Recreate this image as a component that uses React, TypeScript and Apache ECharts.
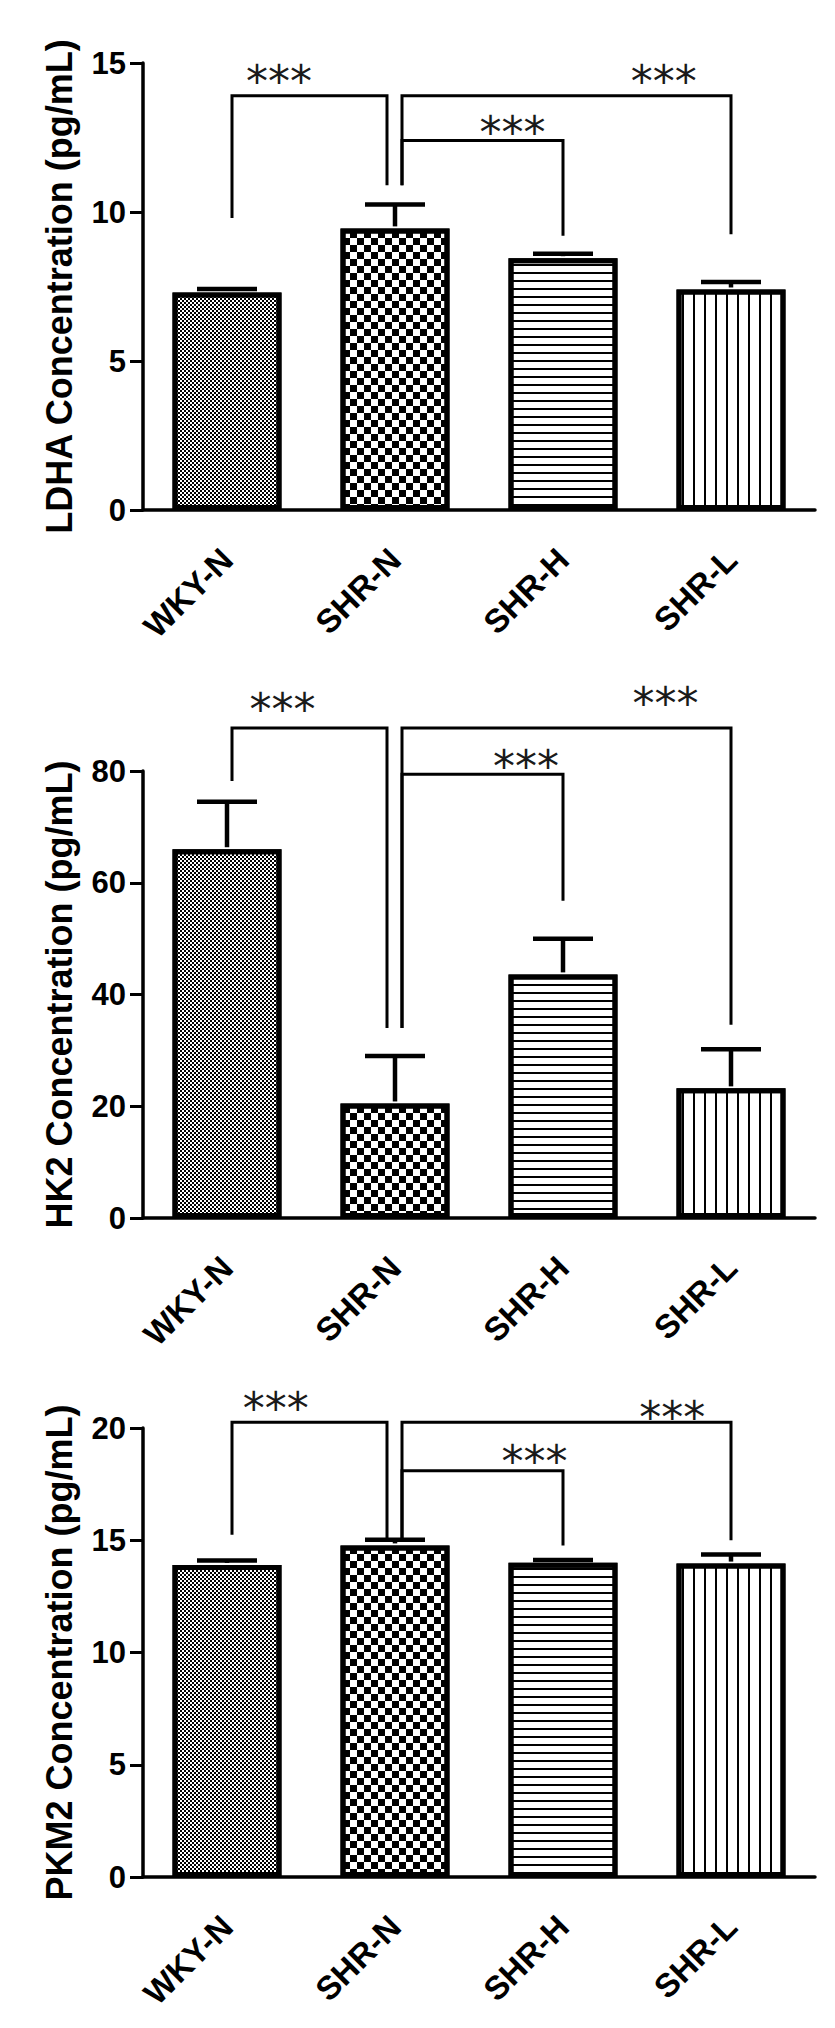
import React, { useEffect, useRef } from "react";
import * as echarts from "echarts";

const categories = ["WKY-N", "SHR-N", "SHR-H", "SHR-L"];

const ldhaMeans = [7.3, 9.45, 8.45, 7.4];
const ldhaErrors = [0.12, 0.8, 0.15, 0.25];
const hk2Means = [66.0, 20.5, 43.6, 23.2];
const hk2Errors = [8.5, 8.5, 6.4, 7.0];
const pkm2Means = [13.9, 14.77, 14.0, 13.96];
const pkm2Errors = [0.2, 0.25, 0.12, 0.4];

const ldhaTicks = [0, 15, 5];
const hk2Ticks = [0, 80, 20];
const pkm2Ticks = [0, 20, 5];

const bracketPairs = [
  [0, 1],
  [1, 2],
  [1, 3],
];
const ldhaBracketTops = [13.9, 12.4, 13.9];
const ldhaBracketEnds = [
  [9.8, 10.9],
  [10.9, 9.2],
  [10.9, 9.25],
];
const ldhaStars = [
  [0.31, 14.6],
  [1.7, 12.9],
  [2.6, 14.6],
];

const hk2BracketTops = [87.7, 79.4, 87.7];
const hk2BracketEnds = [
  [78.2, 34.0],
  [34.0, 56.8],
  [34.0, 34.6],
];
const hk2Stars = [
  [0.33, 92.3],
  [1.78, 82.1],
  [2.61, 93.4],
];

const pkm2BracketTops = [20.26, 18.1, 20.26];
const pkm2BracketEnds = [
  [15.25, 15.1],
  [15.1, 14.77],
  [15.1, 15.0],
];
const pkm2Stars = [
  [0.29, 21.2],
  [1.83, 18.8],
  [2.65, 20.8],
];

const yNames = [
  "LDHA Concentration (pg/mL)",
  "HK2 Concentration (pg/mL)",
  "PKM2 Concentration (pg/mL)",
];

const FONT = "'Liberation Sans', Arial, sans-serif";

const decals: any[] = [
  { symbol: "rect", symbolSize: 1, dashArrayX: [[2, 2], [0, 2, 2, 0]], dashArrayY: [2, 0], color: "#000", backgroundColor: "#fff" },
  { symbol: "rect", symbolSize: 1, dashArrayX: [[7, 7], [0, 7, 7, 0]], dashArrayY: [7, 0], color: "#000", backgroundColor: "#fff" },
  { symbol: "rect", symbolSize: 1, dashArrayX: [1, 0], dashArrayY: [2, 6], color: "#000", backgroundColor: "#fff" },
  { symbol: "rect", symbolSize: 1, dashArrayX: [2, 9], dashArrayY: [1, 0], color: "#000", backgroundColor: "#fff" },
];

function legOffset(cat: number, side: "from" | "to") {
  if (cat === 1) return side === "to" ? -8 : 7;
  if (cat === 0) return 5;
  return 0;
}

export default function App() {
  const ref = useRef<HTMLDivElement>(null);

  useEffect(() => {
    if (!ref.current) return;
    const chart = echarts.init(ref.current, null, { renderer: "svg" });

    const panels = [
      { means: ldhaMeans, errs: ldhaErrors, ticks: ldhaTicks, tops: ldhaBracketTops, ends: ldhaBracketEnds, stars: ldhaStars, top: 63, height: 447 },
      { means: hk2Means, errs: hk2Errors, ticks: hk2Ticks, tops: hk2BracketTops, ends: hk2BracketEnds, stars: hk2Stars, top: 771, height: 447 },
      { means: pkm2Means, errs: pkm2Errors, ticks: pkm2Ticks, tops: pkm2BracketTops, ends: pkm2BracketEnds, stars: pkm2Stars, top: 1428, height: 449 },
    ];

    const grid: any[] = [];
    const xAxis: any[] = [];
    const yAxis: any[] = [];
    const series: any[] = [];

    panels.forEach((p, i) => {
      grid.push({ left: 143, right: 20, top: p.top, height: p.height, containLabel: false });
      xAxis.push({
        type: "category",
        gridIndex: i,
        data: categories,
        axisLine: { lineStyle: { color: "#000", width: 3.5 } },
        axisTick: { alignWithLabel: true, length: 13, lineStyle: { color: "#000", width: 3 } },
        axisLabel: { rotate: 45, margin: 44, fontSize: 33, fontWeight: "bold", color: "#000", fontFamily: FONT },
        splitLine: { show: false },
      });
      yAxis.push({
        type: "value",
        gridIndex: i,
        min: p.ticks[0],
        max: p.ticks[1],
        interval: p.ticks[2],
        name: yNames[i],
        nameLocation: "middle",
        nameGap: 66,
        nameRotate: 90,
        nameTextStyle: { fontSize: 36, fontWeight: "bold", color: "#000", fontFamily: FONT },
        axisLine: { show: true, lineStyle: { color: "#000", width: 3.5 } },
        axisTick: { show: true, length: 13, lineStyle: { color: "#000", width: 3 } },
        axisLabel: { margin: 17, fontSize: 31, fontWeight: "bold", color: "#000", fontFamily: FONT },
        splitLine: { show: false },
      });

      series.push({
        type: "bar",
        xAxisIndex: i,
        yAxisIndex: i,
        barWidth: 109,
        z: 2,
        data: p.means.map((v, k) => ({
          value: v,
          itemStyle: { color: "#fff", borderColor: "#000", borderWidth: 5, decal: decals[k] },
        })),
      });

      series.push({
        type: "custom",
        xAxisIndex: i,
        yAxisIndex: i,
        z: 4,
        data: p.means.map((v, k) => [k, v, p.errs[k]]),
        renderItem: (params: any, api: any) => {
          const c = api.value(0);
          const m = api.value(1);
          const e = api.value(2);
          const p0 = api.coord([c, m]);
          const p1 = api.coord([c, m + e]);
          const hw = 30;
          const st = { stroke: "#000", lineWidth: 4.5 };
          return {
            type: "group",
            children: [
              { type: "line", shape: { x1: p0[0], y1: p0[1] - 2, x2: p1[0], y2: p1[1] }, style: st },
              { type: "line", shape: { x1: p1[0] - hw, y1: p1[1], x2: p1[0] + hw, y2: p1[1] }, style: st },
            ],
          };
        },
      });

      series.push({
        type: "custom",
        xAxisIndex: i,
        yAxisIndex: i,
        z: 5,
        data: bracketPairs.map((pr, k) => [pr[0], p.tops[k], pr[1], p.ends[k][0], p.ends[k][1]]),
        encode: { x: 0, y: 1 },
        renderItem: (params: any, api: any) => {
          const a = api.value(0);
          const top = api.value(1);
          const b = api.value(2);
          const ea = api.value(3);
          const eb = api.value(4);
          const pa = api.coord([a, ea]);
          const pt = api.coord([a, top]);
          const pb = api.coord([b, eb]);
          const xa = pa[0] + legOffset(a, "from");
          const xb = pb[0] + (a === 0 ? legOffset(b, "to") : 0);
          return {
            type: "polyline",
            shape: { points: [[xa, pa[1]], [xa, pt[1]], [xb, pt[1]], [xb, pb[1]]] },
            style: { stroke: "#000", lineWidth: 3, fill: null },
          };
        },
      });

      series.push({
        type: "custom",
        xAxisIndex: i,
        yAxisIndex: i,
        z: 5,
        data: p.stars.map((s) => [Math.floor(s[0]), s[1], s[0] - Math.floor(s[0])]),
        encode: { x: 0, y: 1 },
        renderItem: (params: any, api: any) => {
          const c = api.value(0);
          const y = api.value(1);
          const f = api.value(2);
          const q0 = api.coord([c, y]);
          const q1 = api.coord([c + 1, y]);
          const x = q0[0] + f * (q1[0] - q0[0]);
          return {
            type: "text",
            style: {
              text: "***",
              x,
              y: q0[1] + 7,
              align: "center",
              verticalAlign: "middle",
              fontSize: 44,
              fontFamily: "'DejaVu Sans', sans-serif",
              fill: "#1a1a1a",
            },
          };
        },
      });
    });

    chart.setOption({
      animation: false,
      backgroundColor: "#fff",
      grid,
      xAxis,
      yAxis,
      series,
    });

    return () => chart.dispose();
  }, []);

  return (
    <div
      ref={ref}
      style={{ position: "absolute", left: 0, top: 0, width: 835, height: 2028, background: "#fff" }}
    />
  );
}
